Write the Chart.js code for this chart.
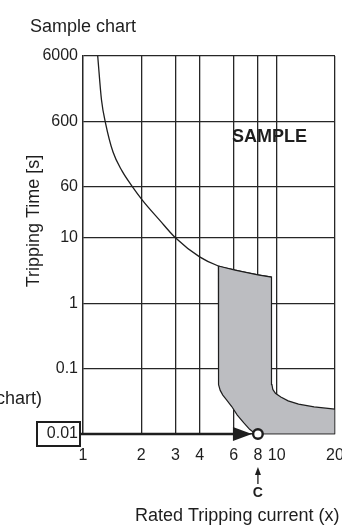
<!DOCTYPE html>
<html>
<head>
<meta charset="utf-8">
<script src="https://cdn.jsdelivr.net/npm/chart.js@4.4.1/dist/chart.umd.min.js"></script>
<style>
  html, body { margin: 0; padding: 0; background: #fff; }
  #wrap { width: 342px; height: 526px; }
</style>
</head>
<body>
<div id="wrap"><canvas id="myChart" width="342" height="526"></canvas></div>
<script>
//AXES
var xTicks = [1, 2, 3, 4, 6, 8, 10, 20];
var yTicks = [0.01, 0.1, 1, 10, 60, 600, 6000];

//thermal curve
var curveX = [1.191, 1.246, 1.307, 1.429, 1.59, 1.79, 2.024, 2.486, 3, 4, 5, 6.1, 8, 9.4];
var curveY = [6000, 1274, 567, 204, 105, 61.7, 37.7, 18.6, 10, 5.1, 3.7, 3.2, 2.7, 2.5];

//grey tripping band, outline clockwise from top left
var bandX = [5, 5, 5, 5.03, 5.11, 5.27, 5.51, 5.86, 6.26, 6.75, 7.25, 7.67, 8,
             20, 20, 15.6, 12.97, 11.46, 10.5, 9.85, 9.55, 9.45, 9.4, 9.4, 8, 6.1, 5];
var bandY = [3.7, 0.094, 0.0716, 0.0567, 0.0464, 0.0393, 0.0333, 0.0263, 0.0195, 0.0149, 0.0118, 0.0104, 0.01,
             0.01, 0.024, 0.0259, 0.0286, 0.0321, 0.0367, 0.042, 0.048, 0.0567, 0.0716, 2.5, 2.7, 3.2, 3.7];

//point C
var markX = 8;
var markY = 0.01;

function toPoints(xs, ys) {
  return xs.map(function(x, i) { return {x: x, y: ys[i]}; });
}

var FONT = "'Liberation Sans', Arial, sans-serif";
var INK = '#1e1e1e';

Chart.defaults.font.family = FONT;
Chart.defaults.color = INK;

//extra drawing: arrow, circle, boxed label, texts
var extras = {
  id: 'extras',
  afterDraw: function(chart) {
    var ctx = chart.ctx;
    var px = chart.scales.x.getPixelForValue(markX);
    var py = chart.scales.y.getPixelForValue(markY);
    var left = chart.chartArea.left;
    ctx.save();
    ctx.fillStyle = INK;
    ctx.strokeStyle = INK;

    //arrow along 0.01
    ctx.lineWidth = 2.6;
    ctx.beginPath(); ctx.moveTo(left - 4, py); ctx.lineTo(px - 16, py); ctx.stroke();
    ctx.beginPath();
    ctx.moveTo(px - 6, py); ctx.lineTo(px - 25, py - 7); ctx.lineTo(px - 25, py + 7);
    ctx.closePath(); ctx.fill();

    //circle
    ctx.lineWidth = 2.4;
    ctx.fillStyle = '#fff';
    ctx.beginPath(); ctx.arc(px, py, 4.8, 0, Math.PI * 2); ctx.fill(); ctx.stroke();
    ctx.fillStyle = INK;

    //box on 0.01 label
    ctx.lineWidth = 2;
    ctx.strokeRect(37, py - 12, 43, 24);

    //small up arrow + C
    ctx.lineWidth = 1.3;
    ctx.beginPath(); ctx.moveTo(px, 484); ctx.lineTo(px, 472); ctx.stroke();
    ctx.beginPath(); ctx.moveTo(px, 467); ctx.lineTo(px - 3, 475); ctx.lineTo(px + 3, 475); ctx.closePath(); ctx.fill();
    ctx.font = 'bold 14px ' + FONT;
    ctx.textAlign = 'center';
    ctx.fillText('C', px, 497);

    //texts
    ctx.textAlign = 'left';
    ctx.font = '18px ' + FONT;
    ctx.fillText('Sample chart', 30, 32);
    ctx.fillText('Rated Tripping current (x)', 135, 521);
    ctx.textAlign = 'right';
    ctx.fillText('chart)', 42, 404);
    ctx.textAlign = 'left';
    ctx.font = 'bold 18px ' + FONT;
    ctx.fillText('SAMPLE', 232, 142);

    //y title
    ctx.font = '18px ' + FONT;
    ctx.translate(39, 221);
    ctx.rotate(-Math.PI / 2);
    ctx.textAlign = 'center';
    ctx.fillText('Tripping Time [s]', 0, 0);
    ctx.restore();
  }
};

var ctx = document.getElementById('myChart').getContext('2d');
var myChart = new Chart(ctx, {
  type: 'scatter',
  data: {
    datasets: [{
      data: toPoints(bandX, bandY),
      showLine: true,
      fill: 'shape',
      backgroundColor: '#bcbdc1',
      borderColor: INK,
      borderWidth: 1.2,
      pointRadius: 0,
      tension: 0
    }, {
      data: toPoints(curveX, curveY),
      showLine: true,
      fill: false,
      borderColor: INK,
      borderWidth: 1.3,
      pointRadius: 0,
      cubicInterpolationMode: 'monotone'
    }]
  },
  options: {
    responsive: false,
    animation: false,
    devicePixelRatio: 1,
    layout: { padding: { top: 56, right: 7, left: 0, bottom: 0 } },
    plugins: {
      legend: { display: false },
      tooltip: { enabled: false }
    },
    scales: {
      x: {
        type: 'logarithmic',
        min: 1, max: 20,
        z: 1,
        afterBuildTicks: function(s) { s.ticks = xTicks.map(function(v) { return {value: v}; }); },
        afterFit: function(s) { s.height = 92; s.paddingLeft = 0; s.paddingRight = 0; },
        ticks: {
          autoSkip: false, maxRotation: 0,
          padding: 12,
          font: { size: 16 },
          callback: function(v) { return String(v); }
        },
        grid: { color: '#262626', lineWidth: 1.3, drawTicks: false },
        border: { color: '#262626', width: 1.3 }
      },
      y: {
        type: 'logarithmic',
        min: 0.01, max: 6000,
        z: 1,
        afterBuildTicks: function(s) { s.ticks = yTicks.map(function(v) { return {value: v}; }); },
        afterFit: function(s) { s.width = 83; s.paddingTop = 0; s.paddingBottom = 0; },
        ticks: {
          autoSkip: false,
          padding: 5,
          font: { size: 16 },
          callback: function(v) { return String(v); }
        },
        grid: { color: '#262626', lineWidth: 1.3, drawTicks: false },
        border: { color: '#262626', width: 1.3 }
      }
    }
  },
  plugins: [extras]
});
</script>
</body>
</html>
